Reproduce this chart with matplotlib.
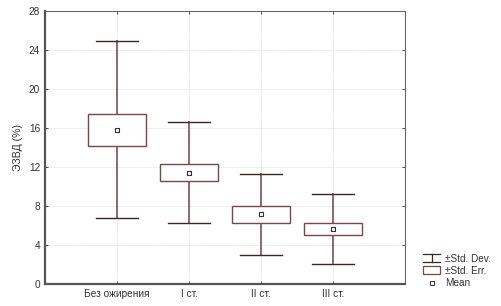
import matplotlib
matplotlib.use('Agg')
import matplotlib.pyplot as plt
from matplotlib.patches import Rectangle
from matplotlib.lines import Line2D
from matplotlib.legend_handler import HandlerBase

# data
groups = ['Без ожирения', 'I ст.', 'II ст.', 'III ст.']
means = [15.82, 11.43, 7.15, 5.68]
std_err = [1.65, 0.83, 0.85, 0.62]
std_dev = [9.06, 5.21, 4.17, 3.60]
y_ticks = [0, 4, 8, 12, 16, 20, 24, 28]

box_col = '#7a4747'
stem_col = '#8c5c5c'
cap_col = '#3c2626'

plt.rcParams['font.family'] = ['Liberation Sans', 'DejaVu Sans']
plt.rcParams['font.size'] = 7.3

fig = plt.figure(figsize=(5.02, 3.06), dpi=100)
ax = fig.add_axes([0.0896, 0.072, 0.717, 0.892])

pos = list(range(1, len(groups) + 1))
for x, m, se, sd in zip(pos, means, std_err, std_dev):
    # whisker stems (drawn behind box)
    ax.plot([x, x], [m - sd, m - se], color=stem_col, lw=1.3, zorder=2)
    ax.plot([x, x], [m + se, m + sd], color=stem_col, lw=1.3, zorder=2)
    ax.plot([x - 0.29, x + 0.29], [m + sd, m + sd], color=cap_col, lw=1.0, zorder=3)
    ax.plot([x - 0.29, x + 0.29], [m - sd, m - sd], color=cap_col, lw=1.0, zorder=3)
    ax.add_patch(Rectangle((x - 0.4, m - se), 0.8, 2 * se, facecolor='white',
                           edgecolor=box_col, lw=1.0, zorder=4))
    ax.plot(x, m, marker='s', ms=3.2, mfc='white', mec=cap_col, mew=0.8, zorder=5)

ax.set_xlim(0, 5)
ax.set_ylim(0, 28)
ax.set_yticks(y_ticks)
ax.set_xticks(pos)
ax.set_xticklabels(groups)
ax.set_ylabel('ЭЗВД (%)', fontsize=7.6, color='#333333')
ax.grid(True, color='#e4e4e4', lw=0.6, linestyle=(0, (2, 1)))
ax.set_axisbelow(True)
ax.tick_params(direction='in', length=2.5, width=0.6, top=True, right=True,
               colors='#333333', labelcolor='#333333')
for s in ['left', 'bottom']:
    ax.spines[s].set_linewidth(1.6)
    ax.spines[s].set_color('#555555')
for s in ['top', 'right']:
    ax.spines[s].set_linewidth(0.8)
    ax.spines[s].set_color('#666666')


class HandlerIbeam(HandlerBase):
    def create_artists(self, legend, orig, xd, yd, w, h, fontsize, trans):
        l1 = Line2D([xd, xd + w], [yd + h, yd + h], color=cap_col, lw=0.9)
        l2 = Line2D([xd, xd + w], [yd, yd], color=cap_col, lw=0.9)
        l3 = Line2D([xd + w / 2, xd + w / 2], [yd, yd + h], color=cap_col, lw=0.9)
        return [a for a in (l1, l2, l3) if not a.set_transform(trans)]


class HandlerBox(HandlerBase):
    def create_artists(self, legend, orig, xd, yd, w, h, fontsize, trans):
        r = Rectangle((xd, yd), w, h, facecolor='white', edgecolor=box_col, lw=0.9)
        r.set_transform(trans)
        return [r]


sd_h = Line2D([], [])
se_h = Rectangle((0, 0), 1, 1)
mean_h = Line2D([], [], ls='none', marker='s', ms=3, mfc='white', mec=cap_col, mew=0.7)
fig.legend([sd_h, se_h, mean_h], ['±Std. Dev.', '±Std. Err.', 'Mean'],
           handler_map={sd_h: HandlerIbeam(), se_h: HandlerBox()},
           loc='lower left', bbox_to_anchor=(0.825, 0.028), frameon=False,
           fontsize=7.2, handlelength=1.7, handleheight=0.85, labelspacing=0.2,
           handletextpad=0.5, labelcolor='#333333')

fig.savefig('out.png', dpi=100)
